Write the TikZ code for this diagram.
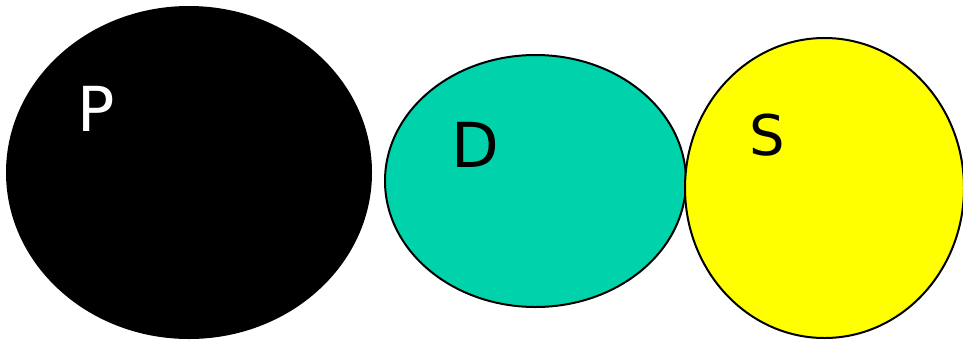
\documentclass[tikz,border=0pt]{standalone}
\usepackage{fontspec}
\setmainfont{DejaVu Sans}
\usetikzlibrary{shapes.geometric}
\definecolor{tealc}{HTML}{00D3AB}
\definecolor{yelc}{HTML}{FFFF00}
\begin{document}
\begin{tikzpicture}[x=1pt,y=-1pt,
  blob/.style={ellipse,inner sep=0pt,line width=2pt},
  letter/.style={inner sep=0pt,font=\fontsize{62}{62}\selectfont}]
\useasboundingbox (0,0) rectangle (963,341);
\node[blob,fill=black,minimum width=366pt,minimum height=333pt] (p) at (189,172.5) {};
\node[blob,draw=black,fill=tealc,minimum width=301pt,minimum height=252pt] (d) at (535.5,181) {};
\node[blob,draw=black,fill=yelc,minimum width=279pt,minimum height=300pt] (s) at (824.5,188) {};
\node[letter,text=white] (pl) at (96,109) {P};
\node[letter] (dl) at (475,145) {D};
\node[letter,font=\fontsize{56}{56}\selectfont] (sl) at (767,135) {S};
\end{tikzpicture}
\end{document}
